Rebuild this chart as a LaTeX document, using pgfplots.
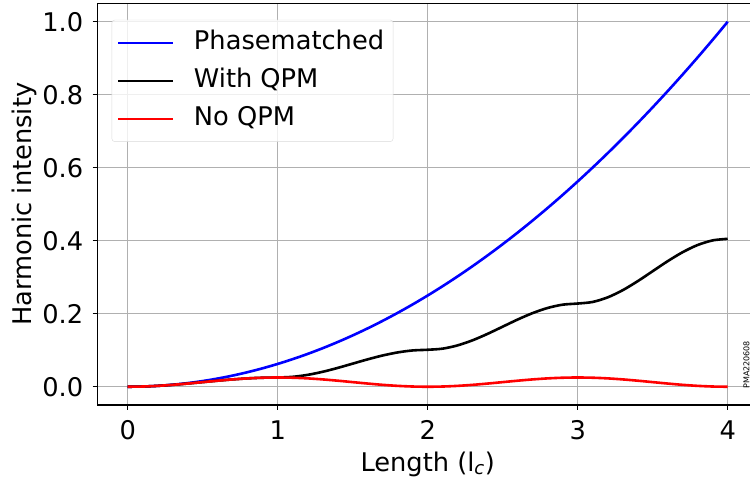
\documentclass[border=0pt]{standalone}
\usepackage{pgfplots}
\pgfplotsset{compat=1.18}
\usepackage{fontspec}
\setmainfont{DejaVu Sans}
\definecolor{gridgray}{HTML}{B0B0B0}
\definecolor{mplblue}{HTML}{0000FF}
\definecolor{mplred}{HTML}{FF0000}
\begin{document}
\begin{tikzpicture}
\begin{axis}[
  name=ax,
  scale only axis,
  width=660pt, height=401.5pt,
  xmin=-0.2, xmax=4.2, ymin=-0.05, ymax=1.05,
  xtick={0,1,2,3,4},
  ytick={0,0.2,0.4,0.6,0.8,1.0},
  yticklabel style={/pgf/number format/fixed,/pgf/number format/fixed zerofill,/pgf/number format/precision=1, xshift=-6pt},
  xticklabel style={yshift=-7pt},
  /pgf/number format/assume math mode=true,
  font=\fontsize{25.7}{30}\selectfont,
  tick label style={font=\fontsize{25.7}{30}\selectfont},
  grid=major,
  major grid style={gridgray, line width=1.2pt},
  axis line style={black, line width=1.2pt},
  tick style={black, line width=1.2pt},
  major tick length=5pt,
  tick align=outside,
  tick pos=left,
  xlabel={Length (l\textsubscript{\textit{c}})},
  ylabel={Harmonic intensity},
  every axis x label/.style={at={(axis description cs:0.5,-0.147)}, anchor=center},
  every axis y label/.style={at={(axis description cs:-0.111,0.5)}, rotate=90, anchor=center},
  legend style={at={(axis description cs:0.0212,0.9595)}, anchor=north west,
    draw=gray!30, rounded corners=3pt, fill=white, fill opacity=0.8, text opacity=1,
    font=\fontsize{25.7}{30}\selectfont, row sep=12.3pt, column sep=15.5pt, inner xsep=5pt, inner ysep=10pt,
    nodes={inner xsep=4pt, inner ysep=0pt, text height=19.3pt, text depth=6.4pt}},
  legend cell align=left,
  legend image post style={line width=2.6pt},
  legend image code/.code={\draw[#1, line width=2.6pt] (0pt,0pt) -- (55pt,0pt);},
]
\addplot[mplblue, line width=2.6pt, smooth] coordinates {
(0,0) (0.1,0.000625) (0.2,0.0025) (0.3,0.005625) (0.4,0.01) (0.5,0.015625) (0.6,0.0225) (0.7,0.030625) (0.8,0.04) (0.9,0.050625)
(1.0,0.0625) (1.1,0.075625) (1.2,0.09) (1.3,0.105625) (1.4,0.1225) (1.5,0.140625) (1.6,0.16) (1.7,0.180625) (1.8,0.2025) (1.9,0.225625)
(2.0,0.25) (2.1,0.275625) (2.2,0.3025) (2.3,0.330625) (2.4,0.36) (2.5,0.390625) (2.6,0.4225) (2.7,0.455625) (2.8,0.49) (2.9,0.525625)
(3.0,0.5625) (3.1,0.600625) (3.2,0.64) (3.3,0.680625) (3.4,0.7225) (3.5,0.765625) (3.6,0.81) (3.7,0.855625) (3.8,0.9025) (3.9,0.950625) (4.0,1.0)
};
\addlegendentry{Phasematched}
\addplot[black, line width=2.6pt, smooth] coordinates {
(0,0) (0.1,0.000620) (0.2,0.002419) (0.3,0.005221) (0.4,0.008751) (0.5,0.012665) (0.6,0.016579) (0.7,0.020110) (0.8,0.022912) (0.9,0.024711)
(1.0,0.025330) (1.1,0.027190) (1.2,0.032587) (1.3,0.040993) (1.4,0.051585) (1.5,0.063326) (1.6,0.075068) (1.7,0.085659) (1.8,0.094066) (1.9,0.099463)
(2.0,0.101321) (2.1,0.104420) (2.2,0.113415) (2.3,0.127425) (2.4,0.145078) (2.5,0.164648) (2.6,0.184217) (2.7,0.201870) (2.8,0.215880) (2.9,0.224875)
(3.0,0.227973) (3.1,0.232312) (3.2,0.244904) (3.3,0.264519) (3.4,0.289233) (3.5,0.316629) (3.6,0.344025) (3.7,0.368739) (3.8,0.388354) (3.9,0.400946) (4.0,0.405285)
};
\addlegendentry{With QPM}
\addplot[mplred, line width=2.6pt, smooth] coordinates {
(0,0) (0.1,0.000620) (0.2,0.002419) (0.3,0.005221) (0.4,0.008751) (0.5,0.012665) (0.6,0.016579) (0.7,0.020110) (0.8,0.022912) (0.9,0.024711)
(1.0,0.025330) (1.1,0.024711) (1.2,0.022912) (1.3,0.020110) (1.4,0.016579) (1.5,0.012665) (1.6,0.008751) (1.7,0.005221) (1.8,0.002419) (1.9,0.000620)
(2.0,0) (2.1,0.000620) (2.2,0.002419) (2.3,0.005221) (2.4,0.008751) (2.5,0.012665) (2.6,0.016579) (2.7,0.020110) (2.8,0.022912) (2.9,0.024711)
(3.0,0.025330) (3.1,0.024711) (3.2,0.022912) (3.3,0.020110) (3.4,0.016579) (3.5,0.012665) (3.6,0.008751) (3.7,0.005221) (3.8,0.002419) (3.9,0.000620) (4.0,0)
};
\addlegendentry{No QPM}
\node[rotate=90, font=\fontsize{8}{8}\selectfont, anchor=center, inner sep=0pt] at (axis description cs:0.983,0.10) {PMA220608};
\end{axis}
\pgfresetboundingbox
\path[use as bounding box] (ax.south west) ++(-97.7pt,-76pt) rectangle ++(750pt,481pt);
\end{tikzpicture}
\end{document}
